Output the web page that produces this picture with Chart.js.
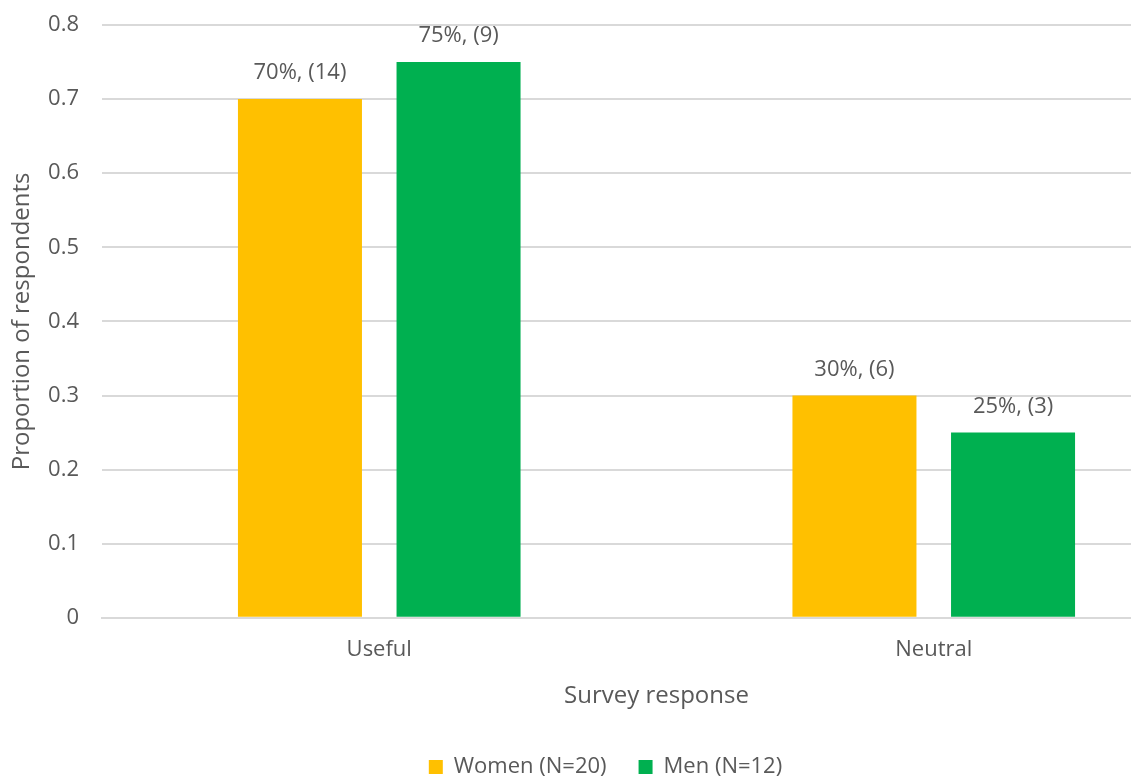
<!DOCTYPE html>
<html>
<head>
<meta charset="utf-8">
<script src="https://cdn.jsdelivr.net/npm/chart.js@4/dist/chart.umd.min.js"></script>
<style>
  html, body { margin: 0; padding: 0; background: #fff; overflow: hidden; }
  #wrap { width: 1214px; height: 778px; position: relative; }
</style>
</head>
<body>
<div id="wrap"><canvas id="c"></canvas></div>
<script>
// Survey responses by gender
const categories = ['Useful', 'Neutral'];
const womenShare = [0.70, 0.30];
const menShare = [0.75, 0.25];
const womenCount = [14, 6];
const menCount = [9, 3];
const seriesNames = ['Women (N=20)', 'Men (N=12)'];

const TEXT = '#595959';
const FONT = "'Open Sans', 'Noto Sans', sans-serif";

// Writes "xx%, (n)" above each bar
const barLabels = {
  id: 'barLabels',
  afterDatasetsDraw(chart) {
    const ctx = chart.ctx;
    const counts = [womenCount, menCount];
    ctx.save();
    ctx.font = '22px ' + FONT;
    ctx.fillStyle = TEXT;
    ctx.textAlign = 'center';
    ctx.textBaseline = 'middle';
    chart.data.datasets.forEach((ds, di) => {
      chart.getDatasetMeta(di).data.forEach((bar, i) => {
        const pct = Math.round(ds.data[i] * 100);
        ctx.fillText(pct + '%, (' + counts[di][i] + ')', bar.x, bar.y - 26);
      });
    });
    ctx.restore();
  }
};

new Chart(document.getElementById('c'), {
  type: 'bar',
  data: {
    labels: categories,
    datasets: [
      { label: seriesNames[0], data: womenShare, backgroundColor: '#FFC000' },
      { label: seriesNames[1], data: menShare, backgroundColor: '#00B050' }
    ]
  },
  options: {
    responsive: true,
    maintainAspectRatio: false,
    animation: false,
    layout: { padding: { top: 25, right: 3, left: 0, bottom: -10 } },
    datasets: { bar: { categoryPercentage: 0.572, barPercentage: 0.782 } },
    plugins: {
      legend: {
        position: 'bottom',
        labels: {
          color: TEXT,
          font: { family: FONT, size: 22 },
          boxWidth: 14,
          boxHeight: 14,
          padding: 32
        }
      },
      tooltip: { enabled: false }
    },
    scales: {
      x: {
        grid: { display: false, drawTicks: false },
        border: { color: '#d9d9d9', width: 2 },
        ticks: { color: TEXT, font: { family: FONT, size: 22 }, padding: 19 },
        title: {
          display: true,
          text: 'Survey response',
          color: TEXT,
          font: { family: FONT, size: 24 },
          padding: { top: 0, bottom: 13 }
        }
      },
      y: {
        min: 0,
        max: 0.8,
        afterFit(scale) {
          scale.width = 102;
          scale.paddingTop = 0;
        },
        ticks: {
          stepSize: 0.1,
          color: TEXT,
          font: { family: FONT, size: 22 },
          padding: 23,
          callback: v => String(Math.round(v * 10) / 10)
        },
        grid: { color: '#d9d9d9', lineWidth: 2, drawTicks: false },
        border: { display: false },
        title: {
          display: true,
          text: 'Proportion of respondents',
          color: TEXT,
          font: { family: FONT, size: 24 },
          padding: { top: 8, bottom: 0 }
        }
      }
    }
  },
  plugins: [barLabels]
});
</script>
</body>
</html>
